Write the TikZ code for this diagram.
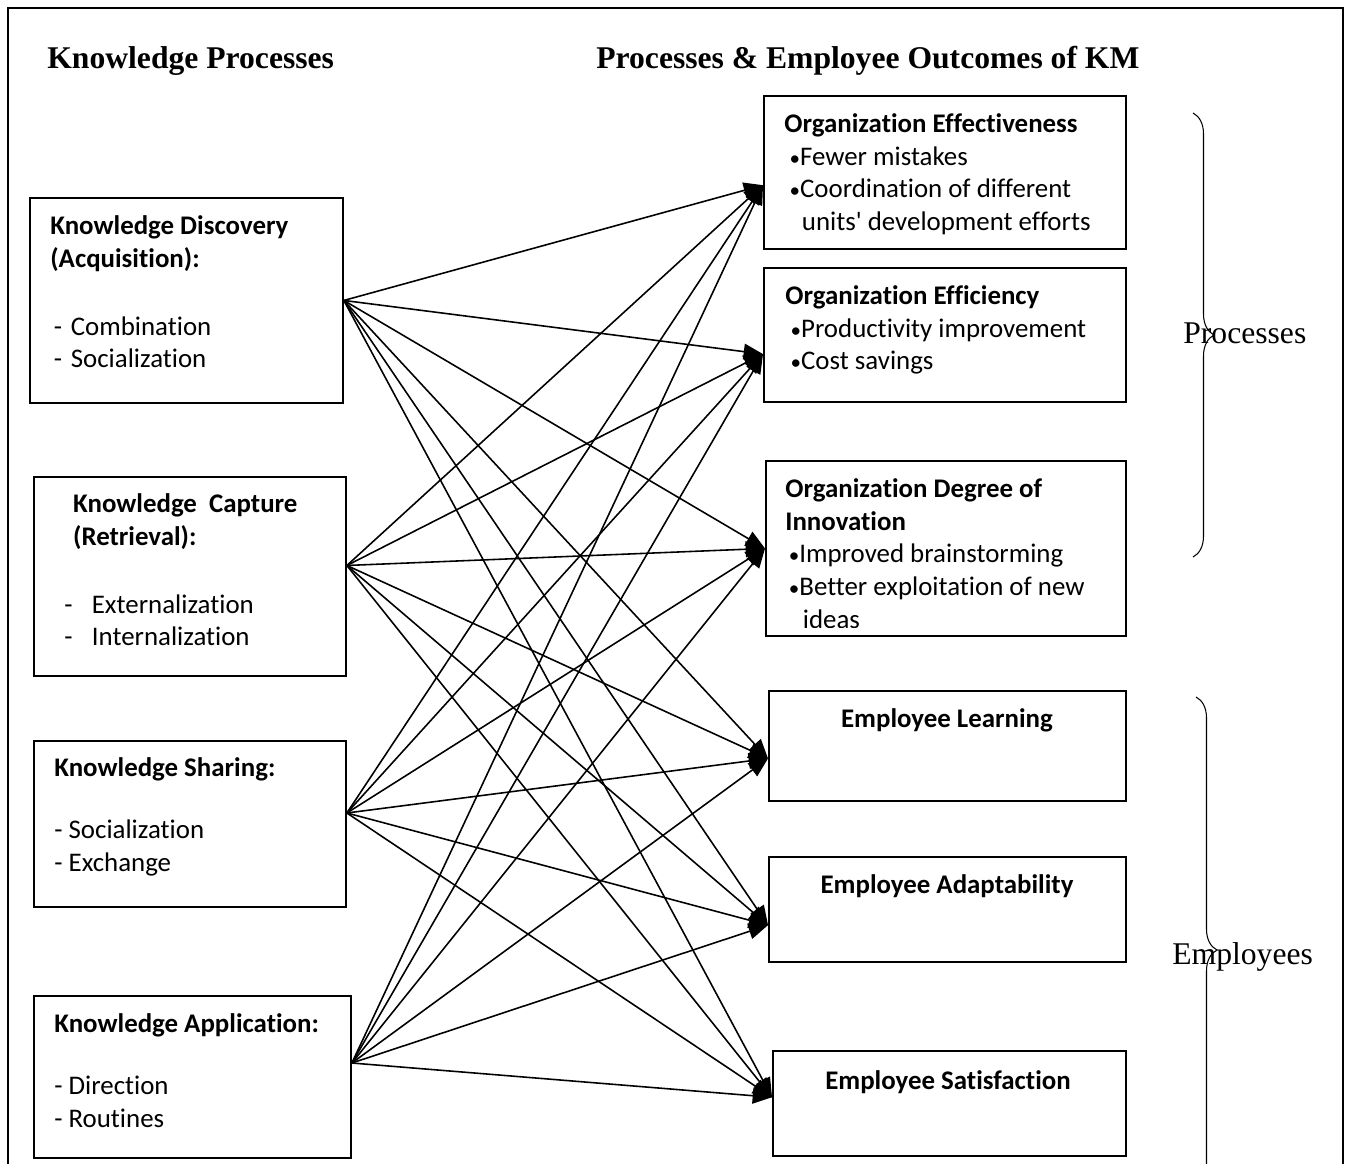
\documentclass[tikz,border=0pt]{standalone}
\usepackage{fontspec}
\setmainfont{Liberation Serif}
\newfontfamily\calibri[Ligatures={NoCommon}]{Carlito}
\usetikzlibrary{arrows.meta}
\usetikzlibrary{decorations.pathreplacing}
\newcommand{\bul}{{\fontsize{12}{12}\selectfont\textbullet}}
\tikzset{box/.style = {draw, line width=1.1pt, inner sep=0pt, anchor=north west}}
\tikzset{txt/.style = {font=\calibri\fontsize{15.3}{18.7}\selectfont, align=left, anchor=north west, inner sep=0pt}}
\tikzset{head/.style = {font=\calibri\bfseries\fontsize{15.3}{18.7}\selectfont, anchor=north, inner sep=0pt}}
\tikzset{title/.style = {font=\bfseries\fontsize{18}{22}\selectfont, anchor=base west, inner sep=0pt}}
\tikzset{group/.style = {font=\fontsize{18}{22}\selectfont, anchor=base west, inner sep=0pt}}
\tikzset{link/.style = {-{Triangle[length=11pt,width=9pt]}, line width=0.9pt}}
\tikzset{curly/.style = {decorate, decoration={brace, amplitude=0.42cm}, line width=0.6pt}}

\begin{document}
\begin{tikzpicture}[x=0.02cm, y=-0.02cm]
                \path[fill=white, use as bounding box] (0,0) rectangle (1345,1163);
                \draw[line width=1.1pt] (8,8) rectangle (1343,1200);

                \node[title] (lefttitle) at (47,68) {Knowledge Processes};
                \node[title] (righttitle) at (596,68) {Processes \& Employee Outcomes of KM};

                % knowledge processes
                \node[box, minimum width=6.26cm, minimum height=4.10cm] (KD) at (29,197) {};
                \node[box, minimum width=6.24cm, minimum height=3.98cm] (KC) at (33,476) {};
                \node[box, minimum width=6.24cm, minimum height=3.32cm] (KS) at (33,740) {};
                \node[box, minimum width=6.34cm, minimum height=3.24cm] (KA) at (33,995) {};

                \node[txt] (KDt) at (50,215) {\textbf{Knowledge Discovery}\\ \textbf{(Acquisition):}\\[20pt]
                    \hspace{2pt}-\hspace{5pt}Combination\\ \hspace{2pt}-\hspace{5pt}Socialization};
                \node[txt] (KCt) at (64,493) {\hspace{5pt}\textbf{Knowledge\ \ Capture}\\ \hspace{5pt}\textbf{(Retrieval):}\\[20pt]
                    -\hspace{11pt}Externalization\\ -\hspace{11pt}Internalization};
                \node[txt] (KSt) at (54,757) {\textbf{Knowledge Sharing:}\\[17pt] - Socialization\\ - Exchange};
                \node[txt] (KAt) at (54,1013) {\textbf{Knowledge Application:}\\[17pt] - Direction\\ - Routines};

                % outcomes
                \node[box, minimum width=7.24cm, minimum height=3.06cm] (OE) at (763,95) {};
                \node[box, minimum width=7.24cm, minimum height=2.68cm] (OEf) at (763,267) {};
                \node[box, minimum width=7.20cm, minimum height=3.50cm] (ODI) at (765,460) {};
                \node[box, minimum width=7.14cm, minimum height=2.20cm] (EL) at (768,690) {};
                \node[box, minimum width=7.14cm, minimum height=2.10cm] (EA) at (768,856) {};
                \node[box, minimum width=7.06cm, minimum height=2.10cm] (ES) at (772,1050) {};

                \node[txt] (OEt) at (784,113) {\textbf{Organization Effectiveness}\\ \hspace{3pt}\bul Fewer mistakes\\
                    \hspace{3pt}\bul Coordination of different\\ \hspace{10pt}units\textquotesingle{} development efforts};
                \node[txt] (OEft) at (785,285) {\textbf{Organization Efficiency}\\ \hspace{3pt}\bul Productivity improvement\\
                    \hspace{3pt}\bul Cost savings};
                \begin{scope}
                    \clip (765,460) rectangle (1125,627);
                    \node[txt] (ODIt) at (785,478) {\textbf{Organization Degree of}\\ \textbf{Innovation}\\
                        \hspace{2pt}\bul Improved brainstorming\\ \hspace{2pt}\bul Better exploitation of new\\ \hspace{10pt}ideas};
                \end{scope}
                \node[head] (ELt) at (947,708) {Employee Learning};
                \node[head] (EAt) at (947,874) {Employee Adaptability};
                \node[head] (ESt) at (948,1070) {Employee Satisfaction};

                % groups
                \draw[curly] (1193,113) -- (1193,557);
                \node[group] (proc) at (1183,343) {Processes};
                \draw[curly] (1196,697) -- (1196,1203);
                \node[group] (empl) at (1172,964) {Employees};

                \draw[link] (KD.east) -- (OE.184);
                \draw[link] (KD.east) -- (OEf.186);
                \draw[link] (KD.east) -- (ODI.west);
                \draw[link] (KD.east) -- (EL.184);
                \draw[link] (KD.east) -- (EA.185);
                \draw[link] (KD.east) -- (ES.178);

                \draw[link] (KC.4) -- (OE.184);
                \draw[link] (KC.4) -- (OEf.186);
                \draw[link] (KC.4) -- (ODI.west);
                \draw[link] (KC.4) -- (EL.184);
                \draw[link] (KC.4) -- (EA.185);
                \draw[link] (KC.4) -- (ES.178);

                \draw[link] (KS.4) -- (OE.184);
                \draw[link] (KS.4) -- (OEf.186);
                \draw[link] (KS.4) -- (ODI.west);
                \draw[link] (KS.4) -- (EL.184);
                \draw[link] (KS.4) -- (EA.185);
                \draw[link] (KS.4) -- (ES.178);

                \draw[link] (KA.5) -- (OE.184);
                \draw[link] (KA.5) -- (OEf.186);
                \draw[link] (KA.5) -- (ODI.west);
                \draw[link] (KA.5) -- (EL.184);
                \draw[link] (KA.5) -- (EA.185);
                \draw[link] (KA.5) -- (ES.178);
\end{tikzpicture}
\end{document}
